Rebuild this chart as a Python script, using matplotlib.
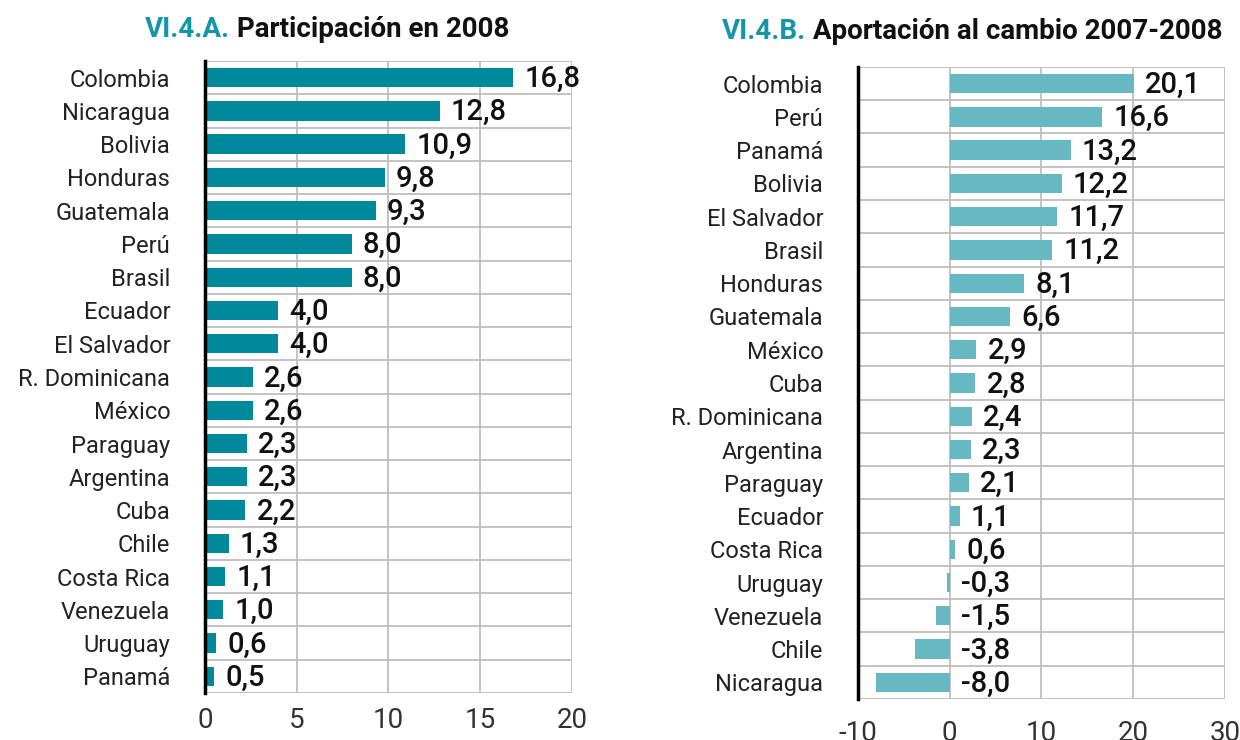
import numpy as np
import matplotlib.pyplot as plt

TEAL_DARK = "#00899A"
TEAL_LIGHT = "#67B8C3"
TITLE_TEAL = "#1596A8"
GRID = "#BEBEBE"

# VI.4.A  Participación en 2008
part_countries = ["Colombia", "Nicaragua", "Bolivia", "Honduras", "Guatemala", "Perú",
                  "Brasil", "Ecuador", "El Salvador", "R. Dominicana", "México", "Paraguay",
                  "Argentina", "Cuba", "Chile", "Costa Rica", "Venezuela", "Uruguay", "Panamá"]
part_values = [16.8, 12.8, 10.9, 9.8, 9.3, 8.0, 8.0, 4.0, 4.0, 2.6, 2.6, 2.3, 2.3, 2.2,
               1.3, 1.1, 1.0, 0.6, 0.5]

# VI.4.B  Aportación al cambio 2007-2008
apor_countries = ["Colombia", "Perú", "Panamá", "Bolivia", "El Salvador", "Brasil",
                  "Honduras", "Guatemala", "México", "Cuba", "R. Dominicana", "Argentina",
                  "Paraguay", "Ecuador", "Costa Rica", "Uruguay", "Venezuela", "Chile",
                  "Nicaragua"]
apor_values = [20.1, 16.6, 13.2, 12.2, 11.7, 11.2, 8.1, 6.6, 2.9, 2.8, 2.4, 2.3, 2.1, 1.1,
               0.6, -0.3, -1.5, -3.8, -8.0]

plt.rcParams["font.family"] = ["Roboto", "DejaVu Sans"]
plt.rcParams["axes.unicode_minus"] = False


def fmt(v):
    return f"{v:.1f}".replace(".", ",")


def draw_panel(ax, countries, values, color, xlim, xticks, tickpad):
    n = len(countries)
    y = np.arange(n)[::-1]
    ax.barh(y, values, height=0.58, color=color, zorder=3)
    for yi, v in zip(y, values):
        ax.annotate(fmt(v), xy=(max(v, 0), yi), xytext=(8, -1), textcoords="offset points",
                    ha="left", va="center", fontsize=21, fontweight="medium",
                    color="#111111", zorder=4)
    ax.set_xlim(*xlim)
    ax.set_ylim(-0.5, n - 0.5)
    ax.set_xticks(xticks)
    ax.set_yticks(y)
    ax.set_yticklabels(countries, fontsize=17, color="#222222")
    ax.set_yticks(np.arange(-0.5, n), minor=True)
    ax.tick_params(axis="y", which="both", length=0, pad=25)
    ax.tick_params(axis="x", length=0, pad=tickpad, labelsize=20, labelcolor="#333333")
    ax.grid(axis="x", which="major", color=GRID, linewidth=1.3, zorder=0)
    ax.grid(axis="y", which="minor", color=GRID, linewidth=1.3, zorder=0)
    for s in ["top", "right", "bottom"]:
        ax.spines[s].set_visible(False)
    ax.spines["left"].set_linewidth(2.5)
    ax.spines["left"].set_color("black")
    ax.spines["left"].set_zorder(5)


def main():
    fig = plt.figure(figsize=(12.4, 7.4), dpi=100)
    ax1 = fig.add_axes([0.1653, 0.0635, 0.296, 0.8541])
    ax2 = fig.add_axes([0.6919, 0.0554, 0.296, 0.8541])

    draw_panel(ax1, part_countries, part_values, TEAL_DARK, (0, 20), [0, 5, 10, 15, 20], 10)
    draw_panel(ax2, apor_countries, apor_values, TEAL_LIGHT, (-10, 30), [-10, 0, 10, 20, 30], 15)

    t1 = fig.text(0.117, 0.95, "VI.4.A.", color=TITLE_TEAL, fontsize=20,
                  fontweight="bold", va="baseline")
    ax1.annotate(" Participación en 2008", xy=(1, 0), xycoords=t1, va="bottom",
                 fontsize=20, fontweight="bold", color="#111111", annotation_clip=False)
    t2 = fig.text(0.582, 0.947, "VI.4.B.", color=TITLE_TEAL, fontsize=20,
                  fontweight="bold", va="baseline")
    ax2.annotate(" Aportación al cambio 2007-2008", xy=(1, 0), xycoords=t2, va="bottom",
                 fontsize=20, fontweight="bold", color="#111111", annotation_clip=False)

    fig.savefig("out.png", dpi=100)


if __name__ == "__main__":
    main()
